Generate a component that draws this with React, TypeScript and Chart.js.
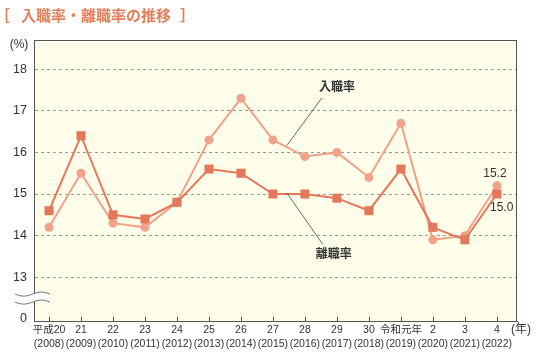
import React, { useEffect, useRef } from "react";
import { Chart, registerables } from "chart.js";

Chart.register(...registerables);

const eraLabels = ["平成20", "21", "22", "23", "24", "25", "26", "27", "28", "29", "30", "令和元年", "2", "3", "4"];
const yearLabels = ["(2008)", "(2009)", "(2010)", "(2011)", "(2012)", "(2013)", "(2014)", "(2015)", "(2016)", "(2017)", "(2018)", "(2019)", "(2020)", "(2021)", "(2022)"];
const entryRate = [14.2, 15.5, 14.3, 14.2, 14.8, 16.3, 17.3, 16.3, 15.9, 16.0, 15.4, 16.7, 13.9, 14.0, 15.2];
const leaveRate = [14.6, 16.4, 14.5, 14.4, 14.8, 15.6, 15.5, 15.0, 15.0, 14.9, 14.6, 15.6, 14.2, 13.9, 15.0];
const yTickValues = [12, 13, 14, 15, 16, 17, 18];

const FONT = "'Liberation Sans', 'Noto Sans CJK JP', sans-serif";
const ENTRY_COLOR = "#F0A28A";
const LEAVE_COLOR = "#E4785A";
const TEXT = "#333333";
const AXIS = "#555555";

const decorPlugin = {
  id: "decor",
  beforeDraw(chart: any) {
    const { ctx, chartArea: a } = chart;
    ctx.save();
    ctx.fillStyle = "#FFFEEB";
    ctx.fillRect(a.left, a.top, a.right - a.left, a.bottom - a.top);
    ctx.restore();
  },
  afterDraw(chart: any) {
    const { ctx, chartArea: a } = chart;
    const xs = chart.scales.x;
    const ys = chart.scales.y;
    ctx.save();
    // frame
    ctx.strokeStyle = AXIS;
    ctx.lineWidth = 1;
    ctx.strokeRect(a.left + 0.5, a.top + 0.5, a.right - a.left - 1, a.bottom - a.top);
    // x tick marks inside
    for (let i = 0; i < eraLabels.length; i++) {
      const px = Math.round(xs.getPixelForValue(i)) + 0.5;
      ctx.beginPath();
      ctx.moveTo(px, a.bottom);
      ctx.lineTo(px, a.bottom - 4);
      ctx.stroke();
    }
    // axis break
    const yb = ys.getPixelForValue(12.5);
    const x0 = a.left - 19;
    const x1 = a.left + 16;
    const wave = (yc: number) => {
      const pts: [number, number][] = [];
      for (let x = x0; x <= x1; x += 1) {
        pts.push([x, yc + 2 * Math.sin(((x - x0) / (x1 - x0)) * Math.PI * 2)]);
      }
      return pts;
    };
    const w1 = wave(yb - 4);
    const w2 = wave(yb + 4);
    ctx.fillStyle = "#FFFFFF";
    ctx.beginPath();
    w1.forEach((p, i) => (i ? ctx.lineTo(p[0], p[1]) : ctx.moveTo(p[0], p[1])));
    for (let i = w2.length - 1; i >= 0; i--) ctx.lineTo(w2[i][0], w2[i][1]);
    ctx.closePath();
    ctx.fill();
    ctx.strokeStyle = "#777777";
    ctx.lineWidth = 1;
    [w1, w2].forEach((w) => {
      ctx.beginPath();
      w.forEach((p, i) => (i ? ctx.lineTo(p[0], p[1]) : ctx.moveTo(p[0], p[1])));
      ctx.stroke();
    });
    // unit labels
    ctx.fillStyle = TEXT;
    ctx.font = `12px ${FONT}`;
    ctx.textBaseline = "middle";
    ctx.textAlign = "center";
    ctx.fillText("(%)", 19, 45);
    ctx.fillText("(年)", 521, 330);
    // series labels
    ctx.font = `bold 12px ${FONT}`;
    ctx.fillText("入職率", xs.getPixelForValue(9.0), ys.getPixelForValue(17.55));
    ctx.fillText("離職率", xs.getPixelForValue(8.9), ys.getPixelForValue(13.55));
    ctx.font = `12px ${FONT}`;
    ctx.fillText("15.2", xs.getPixelForValue(13.94), ys.getPixelForValue(15.48));
    ctx.fillText("15.0", xs.getPixelForValue(14.15), ys.getPixelForValue(14.67));
    // leader lines
    ctx.strokeStyle = "#444444";
    ctx.lineWidth = 0.8;
    ctx.beginPath();
    ctx.moveTo(xs.getPixelForValue(8.53), ys.getPixelForValue(17.31));
    ctx.lineTo(xs.getPixelForValue(7.44), ys.getPixelForValue(16.17));
    ctx.moveTo(xs.getPixelForValue(7.44), ys.getPixelForValue(15.02));
    ctx.lineTo(xs.getPixelForValue(8.56), ys.getPixelForValue(13.79));
    ctx.stroke();
    // title
    ctx.fillStyle = "#E2805C";
    ctx.font = `bold 15px 'Noto Sans CJK JP', sans-serif`;
    ctx.textAlign = "left";
    ctx.fillText("［", -5, 15);
    ctx.fillText("入職率・離職率の推移", 21, 15);
    ctx.fillText("］", 180, 15);
    ctx.restore();
  },
};

export default function App() {
  const ref = useRef<HTMLCanvasElement | null>(null);
  useEffect(() => {
    if (!ref.current) return;
    const chart = new Chart(ref.current, {
      type: "line",
      data: {
        datasets: [
          {
            label: "離職率",
            data: leaveRate.map((v, i) => ({ x: i, y: v })),
            borderColor: LEAVE_COLOR,
            backgroundColor: LEAVE_COLOR,
            borderWidth: 2,
            pointStyle: "rect",
            pointRadius: 6.4,
            pointBorderWidth: 0,
            order: 1,
          },
          {
            label: "入職率",
            data: entryRate.map((v, i) => ({ x: i, y: v })),
            borderColor: ENTRY_COLOR,
            backgroundColor: ENTRY_COLOR,
            borderWidth: 2,
            pointStyle: "circle",
            pointRadius: 4.5,
            pointBorderWidth: 0,
            order: 2,
          },
        ],
      },
      options: {
        animation: false,
        responsive: false,
        events: [],
        layout: { padding: { top: 40, right: 23, left: 0, bottom: 0 } },
        plugins: { legend: { display: false }, tooltip: { enabled: false } },
        scales: {
          x: {
            type: "linear",
            min: -0.47,
            max: 14.63,
            afterFit: (s: any) => {
              s.height = 31;
            },
            afterBuildTicks: (s: any) => {
              s.ticks = eraLabels.map((_, i) => ({ value: i }));
            },
            ticks: {
              autoSkip: false,
              maxRotation: 0,
              padding: 2,
              color: TEXT,
              font: { size: 10.5, family: FONT, lineHeight: "14px" },
              callback: (v: any) => {
                const i = Math.round(Number(v));
                return [eraLabels[i], yearLabels[i]];
              },
            },
            grid: { display: false, drawTicks: false },
            border: { display: true, color: AXIS },
          },
          y: {
            type: "linear",
            min: 11.95,
            max: 18.7,
            afterFit: (s: any) => {
              s.width = 34;
            },
            afterBuildTicks: (s: any) => {
              s.ticks = yTickValues.map((v) => ({ value: v }));
            },
            ticks: {
              padding: 7,
              color: TEXT,
              font: { size: 12.5, family: FONT },
              callback: (v: any) => (Number(v) === 12 ? "0" : String(v)),
            },
            grid: {
              drawTicks: false,
              color: (c: any) => (c.tick && c.tick.value === 12 ? "rgba(0,0,0,0)" : "#9a9a9a"),
              lineWidth: 1,
            },
            border: { display: true, color: AXIS, dash: [3, 3] },
          },
        },
      },
      plugins: [decorPlugin],
    });
    return () => chart.destroy();
  }, []);
  return (
    <div style={{ position: "absolute", left: 0, top: 0, width: 540, height: 352, background: "#fff" }}>
      <canvas ref={ref} width={540} height={352} style={{ width: 540, height: 352 }} />
    </div>
  );
}
